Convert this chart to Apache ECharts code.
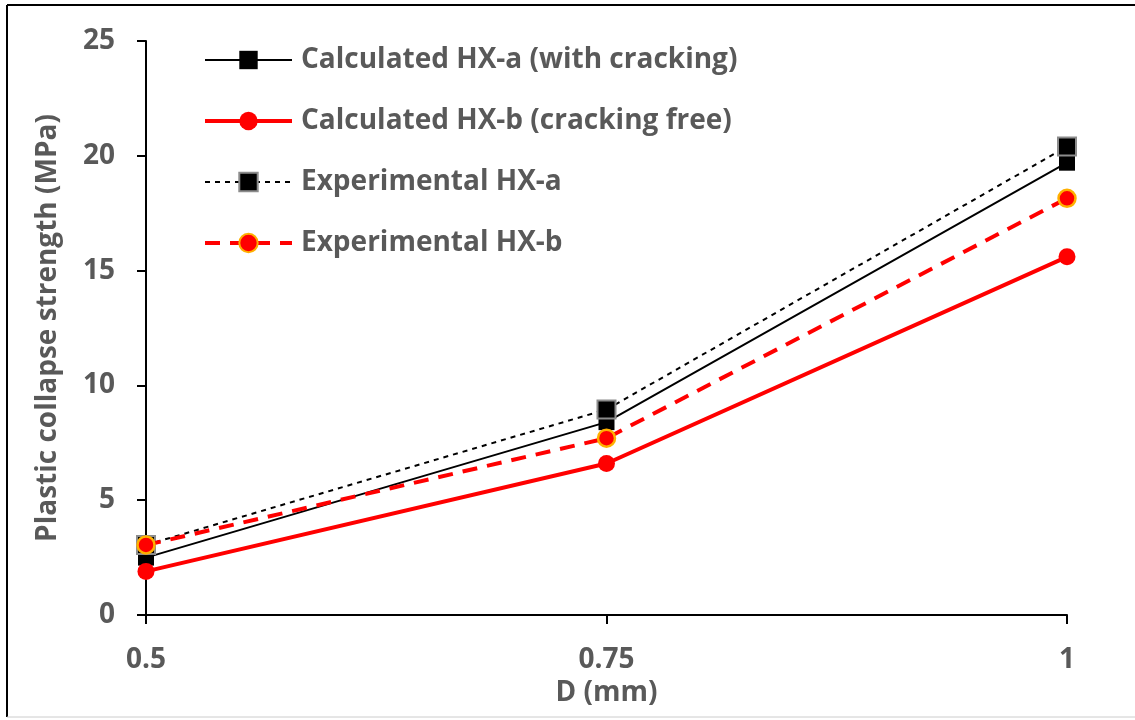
<!DOCTYPE html>
<html>
<head>
<meta charset="utf-8">
<script src="https://cdn.jsdelivr.net/npm/echarts@6/dist/echarts.min.js"></script>
<style>
html,body{margin:0;padding:0;background:#fff;}
#chart{width:1135px;height:720px;}
</style>
</head>
<body>
<div id="chart"></div>
<script>
const categories = ['0.5', '0.75', '1'];
const calcHXa = [2.5, 8.4, 19.7];
const calcHXb = [1.9, 6.6, 15.6];
const expHXa = [3.05, 8.95, 20.4];
const expHXb = [3.05, 7.7, 18.15];
const yTicks = { min: 0, max: 25, interval: 5 };

const FONT = 'Open Sans';
const GRAY = '#595959';
const chart = echarts.init(document.getElementById('chart'));
chart.setOption({
  animation: false,
  backgroundColor: '#fff',
  graphic: [
    { type: 'line', shape: { x1: 7, y1: 5, x2: 1135, y2: 5 }, style: { stroke: '#000', lineWidth: 2 } },
    { type: 'line', shape: { x1: 7, y1: 5, x2: 7, y2: 717 }, style: { stroke: '#000', lineWidth: 2 } },
    { type: 'line', shape: { x1: 7, y1: 717, x2: 1135, y2: 717 }, style: { stroke: '#cccccc', lineWidth: 1 } }
  ],
  grid: { left: 146, right: 68, top: 41, bottom: 105, containLabel: false },
  legend: {
    orient: 'vertical',
    left: 198,
    top: 41,
    itemWidth: 87,
    itemHeight: 23,
    itemGap: 33,
    textStyle: { fontFamily: FONT, fontWeight: 'bold', fontSize: 28, color: GRAY, padding: [0, 0, 0, 4] },
    data: [
      { name: 'Calculated HX-a (with cracking)', lineStyle: { width: 2 } },
      { name: 'Calculated HX-b (cracking free)', lineStyle: { width: 4 } },
      { name: 'Experimental HX-a', lineStyle: { width: 2 } },
      { name: 'Experimental HX-b', lineStyle: { width: 4 } }
    ]
  },
  xAxis: {
    type: 'category',
    data: categories,
    boundaryGap: false,
    name: 'D (mm)',
    nameLocation: 'middle',
    nameGap: 64,
    nameTextStyle: { fontFamily: FONT, fontWeight: 'bold', fontSize: 28, color: GRAY },
    axisLine: { lineStyle: { color: '#000', width: 2 } },
    axisTick: { show: true, alignWithLabel: true, length: 9, lineStyle: { color: '#000', width: 2 } },
    axisLabel: { fontFamily: FONT, fontWeight: 'bold', fontSize: 28, color: GRAY, margin: 31 }
  },
  yAxis: {
    type: 'value',
    min: yTicks.min,
    max: yTicks.max,
    interval: yTicks.interval,
    name: 'Plastic collapse strength (MPa)',
    nameLocation: 'middle',
    nameGap: 84,
    nameTextStyle: { fontFamily: FONT, fontWeight: 'bold', fontSize: 28, color: GRAY },
    splitLine: { show: false },
    axisLine: { show: true, lineStyle: { color: '#000', width: 2 } },
    axisTick: { show: true, length: 9, lineStyle: { color: '#000', width: 2 } },
    axisLabel: { fontFamily: FONT, fontWeight: 'bold', fontSize: 28, color: GRAY, margin: 31 }
  },
  series: [
    {
      name: 'Calculated HX-a (with cracking)', type: 'line', data: calcHXa,
      symbol: 'rect', symbolSize: 16, z: 2,
      lineStyle: { color: '#000', width: 2 },
      itemStyle: { color: '#000', borderWidth: 0 }
    },
    {
      name: 'Calculated HX-b (cracking free)', type: 'line', data: calcHXb,
      symbol: 'circle', symbolSize: 17, z: 3,
      lineStyle: { color: '#ff0000', width: 4 },
      itemStyle: { color: '#ff0000', borderWidth: 0 }
    },
    {
      name: 'Experimental HX-a', type: 'line', data: expHXa,
      symbol: 'rect', symbolSize: 18, z: 4,
      lineStyle: { color: '#000', width: 2, type: [5, 5] },
      itemStyle: { color: '#000', borderColor: '#8c8c8c', borderWidth: 2 }
    },
    {
      name: 'Experimental HX-b', type: 'line', data: expHXb,
      symbol: 'circle', symbolSize: 17, z: 5,
      lineStyle: { color: '#ff0000', width: 4, type: [15, 10] },
      itemStyle: { color: '#ff0000', borderColor: '#ffb000', borderWidth: 2.5 }
    }
  ]
});
</script>
</body>
</html>
